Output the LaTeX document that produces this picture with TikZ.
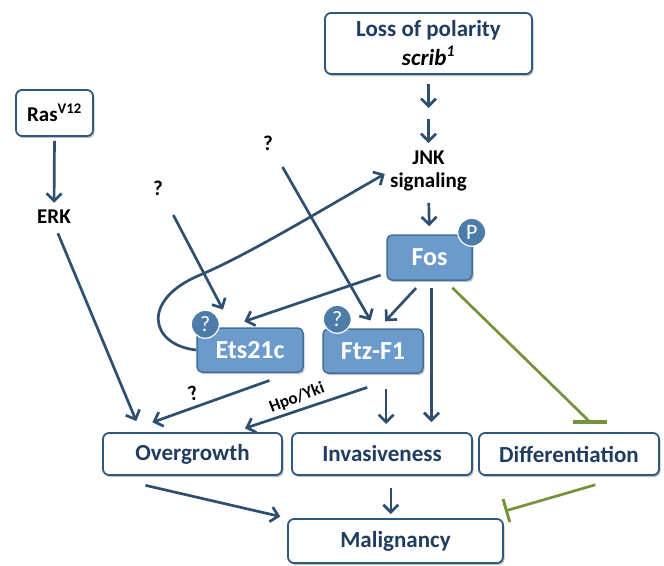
\documentclass[tikz,border=0pt]{standalone}
\usepackage{fontspec}
\setmainfont{Carlito}
\usetikzlibrary{arrows.meta,shadows,calc}
\definecolor{navy}{HTML}{2E4F70}
\definecolor{boxborder}{HTML}{2F5880}
\definecolor{boxtext}{HTML}{203D5F}
\definecolor{fillblue}{HTML}{6C9BCB}
\definecolor{fillborder}{HTML}{41709C}
\definecolor{circfill}{HTML}{4E7CA8}
\definecolor{inhgreen}{HTML}{76923C}
\begin{document}
\begin{tikzpicture}[x=1pt,y=-1pt,
  every node/.style={inner sep=0pt},
  obox/.style={draw=boxborder, line width=1.8pt, rounded corners=6pt, fill=white, text=boxtext,
    font=\fontsize{23}{29}\selectfont\bfseries,
    drop shadow={shadow xshift=1.5pt, shadow yshift=-2pt, opacity=0.25, fill=black}},
  fbox/.style={draw=fillborder, line width=1.5pt, rounded corners=5pt, fill=fillblue, text=white,
    font=\fontsize{26}{30}\selectfont\bfseries,
    drop shadow={shadow xshift=1.5pt, shadow yshift=-2pt, opacity=0.25, fill=black}},
  badge/.style={circle, fill=circfill, draw=white, line width=1.2pt, text=white, minimum size=28pt,
    font=\fontsize{22}{22}\selectfont},
  lbl/.style={font=\fontsize{21}{22.5}\selectfont\bfseries, text=black},
  arr/.style={draw=navy, line width=2.7pt, -{Straight Barb[length=7.5pt,width=15pt]}},
  inh/.style={draw=inhgreen, line width=2.7pt},
]
\useasboundingbox (0,0) rectangle (664,565);

% boxes
\node[obox, minimum width=207pt, minimum height=61pt, align=center] (loss) at (428.5,43.5)
  {Loss of polarity\\{\color{black}\textit{scrib}\textsuperscript{\itshape 1}}};
\node[obox, minimum width=77pt, minimum height=46pt, text=black] (ras) at (54.5,113)
  {\fontsize{21}{24}\selectfont Ras\textsuperscript{V12}};
\node[lbl] (erk) at (54,217) {ERK};
\node[lbl, align=center] (jnk) at (428.5,171) {JNK\\signaling};
\node[fbox, minimum width=85pt, minimum height=45pt] (fos) at (429.5,257.5) {Fos};
\node[badge] (pb) at ([shift={(-1pt,2pt)}]fos.north east) {P};
\node[fbox, minimum width=106pt, minimum height=44pt] (ets) at (250,350) {Ets21c};
\node[badge] (q3) at ([shift={(9pt,3pt)}]ets.north west) {?};
\node[fbox, minimum width=100pt, minimum height=44pt] (ftz) at (373,351) {Ftz-F1};
\node[badge] (q4) at ([shift={(15pt,9pt)}]ftz.north west) {?};
\node[lbl] (q1) at (158,188) {?};
\node[lbl] (q2) at (268,143) {?};
\node[obox, minimum width=179pt, minimum height=42pt] (over) at (192.5,454) {Overgrowth};
\node[obox, minimum width=180pt, minimum height=42pt] (inv) at (382,454) {Invasiveness};
\node[obox, minimum width=180pt, minimum height=42pt] (diff) at (569,454) {Differentiation};
\node[obox, minimum width=215pt, minimum height=44pt] (mal) at (395.5,541) {Malignancy};
\node[lbl, rotate=15] (qe) at (193,393) {?};
\node[lbl, rotate=21, font=\fontsize{17}{20}\selectfont\bfseries] (hpo) at (297,398) {Hpo/Yki};

% connectors
\coordinate (jmid) at (428.5,113.5);
\draw[arr, shorten <=9pt, shorten >=5.5pt] (loss.south) -- (jmid);
\draw[arr, shorten <=5.5pt, shorten >=7.9pt] (jmid) -- (jnk.north);
\draw[arr, shorten <=11.9pt, shorten >=8pt] (jnk.south) -- (fos.north);
\draw[arr, shorten <=4pt, shorten >=7.2pt] (ras.south) -- (erk.north);
\draw[arr, shorten <=10pt, shorten >=12pt] (erk.south) -- (over.157);
\draw[arr, shorten <=22pt, shorten >=20pt] (q1.south east) -- (ets.128);
\draw[arr, shorten <=19pt, shorten >=9pt] (q2.south east) -- (ftz.85);
\draw[arr, shorten <=6pt, shorten >=18pt] (fos.200) -- (ets.135);
\draw[arr, shorten <=10pt, shorten >=9.5pt] (fos.254) -- (ftz.76);
\draw[arr, shorten <=7pt, shorten >=10pt] (fos.275) -- (fos.275 |- inv.north);
\coordinate (tdiff) at (590,422);
\draw[inh, shorten <=10pt] (fos.304) -- (tdiff);
\draw[inh, line width=3.4pt] ([xshift=-17pt]tdiff) -- ([xshift=17pt]tdiff);
\draw[arr, shorten <=23pt, shorten >=29pt] (ets.331) -- (over.162);
\draw[arr, shorten <=43pt, shorten >=12pt] (ftz.327) -- (over.28);
\draw[arr, shorten <=15pt, shorten >=8pt] (ftz.300) -- (ftz.300 |- inv.north);
\draw[arr, shorten <=42pt, shorten >=7pt] (over.194) -- (mal.north west);
\draw[arr, shorten <=12pt, shorten >=4pt] (inv.292) -- (inv.292 |- mal.north);
\coordinate (tmal) at (505,511);
\draw[inh, -{Bar[width=24pt, line width=3pt]}, shorten <=32pt] (diff.339) -- (tmal);
\draw[arr, shorten >=6pt] (ets.west) .. controls (150,345) and (140,300) .. (200,275)
  .. controls (248,255) and (330,205) .. (jnk.west);
\end{tikzpicture}
\end{document}
